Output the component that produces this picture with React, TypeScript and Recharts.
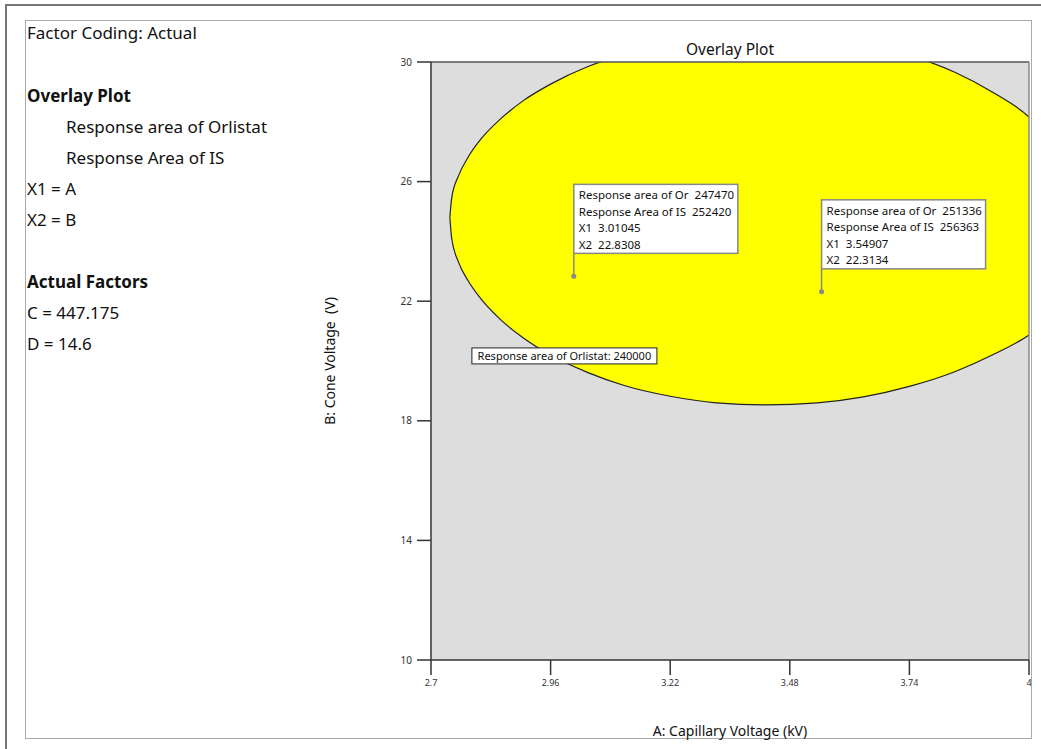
import { Area, CartesianGrid, ComposedChart, ReferenceLine, Scatter, XAxis, YAxis } from 'recharts'

// contour of the Orlistat response (240000)
const contourX = [2.741, 2.745, 2.76, 2.78, 2.81, 2.85, 2.9, 2.96, 3.04, 3.12, 3.22, 3.32, 3.43, 3.54, 3.64, 3.74, 3.84, 3.92, 4.0, 4.05]
const contourLow = [24.8, 24.1, 23.3, 22.7, 22.05, 21.4, 20.78, 20.2, 19.62, 19.18, 18.82, 18.6, 18.53, 18.6, 18.8, 19.15, 19.65, 20.2, 20.87, 21.5]
const contourHigh = [24.8, 25.45, 26.2, 26.8, 27.45, 28.08, 28.7, 29.26, 29.84, 30.25, 30.62, 30.83, 30.9, 30.82, 30.59, 30.22, 29.65, 29.0, 28.16, 27.3]

const xTicks = [2.7, 2.96, 3.22, 3.48, 3.74, 4]
const yTicks = [10, 14, 18, 22, 26, 30]

const flagX = [3.01045, 3.54907]
const flagY = [22.8308, 22.3134]
const flagOr = [247470, 251336]
const flagIS = [252420, 256363]

const contourLabel = 'Response area of Orlistat: 240000'
const contourLabelAt = { x: 2.99, y: 20.17 }

const leftLines = [
  { text: 'Factor Coding: Actual', y: 33, x: 27, bold: false },
  { text: 'Overlay Plot', y: 96, x: 27, bold: true },
  { text: 'Response area of Orlistat', y: 127, x: 66, bold: false },
  { text: 'Response Area of IS', y: 158, x: 66, bold: false },
  { text: 'X1 = A', y: 189, x: 27, bold: false },
  { text: 'X2 = B', y: 220, x: 27, bold: false },
  { text: 'Actual Factors', y: 282, x: 27, bold: true },
  { text: 'C = 447.175', y: 313, x: 27, bold: false },
  { text: 'D = 14.6', y: 344, x: 27, bold: false },
]

const FONT = '"Noto Sans", "Open Sans", sans-serif'

const contourData = contourX.map((x, i) => ({ x, band: [contourLow[i], contourHigh[i]] }))
const flagData = flagX.map((x, i) => ({ x, y: flagY[i], or: flagOr[i], is: flagIS[i] }))

const FlagShape = (props: any) => {
  const { cx, cy, payload } = props
  if (cx == null || cy == null) return null
  const boxW = 164
  const boxH = 69
  const top = cy - 23 - boxH
  const rows = [
    `Response area of Or  ${payload.or}`,
    `Response Area of IS  ${payload.is}`,
    `X1  ${payload.x}`,
    `X2  ${payload.y}`,
  ]
  return (
    <g>
      <line x1={cx} y1={cy} x2={cx} y2={top + boxH} stroke="#888" strokeWidth={1.5} />
      <circle cx={cx} cy={cy} r={2.5} fill="#888" />
      <rect x={cx} y={top} width={boxW} height={boxH} fill="#fff" stroke="#888" strokeWidth={1.5} />
      {rows.map((r, i) => (
        <text
          key={i}
          x={cx + 5}
          y={top + 15 + i * 16.5}
          fontSize={11.5}
          fontFamily={FONT}
          fill="#111"
          style={{ whiteSpace: 'pre' }}
        >
          {r}
        </text>
      ))}
    </g>
  )
}

const LabelShape = (props: any) => {
  const { cx, cy } = props
  if (cx == null || cy == null) return null
  const w = 185
  const h = 16
  return (
    <g>
      <rect x={cx - w / 2} y={cy - h / 2} width={w} height={h} fill="#fff" stroke="#222" strokeWidth={1} />
      <text x={cx} y={cy + 4} textAnchor="middle" fontSize={11} fontFamily={FONT} fill="#111">
        {contourLabel}
      </text>
    </g>
  )
}

export default function App() {
  return (
    <div
      style={{
        position: 'absolute',
        left: 0,
        top: 0,
        width: 1041,
        height: 749,
        overflow: 'hidden',
        background: '#fff',
        fontFamily: FONT,
        color: '#111',
      }}
    >
      <div style={{ position: 'absolute', left: 5, top: 4, width: 1060, height: 770, border: '2px solid #777' }} />
      <div style={{ position: 'absolute', left: 25, top: 20, width: 1005, height: 717, border: '1px solid #aaa' }} />

      {leftLines.map((l) => (
        <div
          key={l.text}
          style={{
            position: 'absolute',
            left: l.x,
            top: l.y - 12,
            fontSize: 17,
            lineHeight: '24px',
            fontWeight: l.bold ? 700 : 400,
            whiteSpace: 'nowrap',
          }}
        >
          {l.text}
        </div>
      ))}

      <div style={{ position: 'absolute', left: 630, top: 38, width: 200, textAlign: 'center', fontSize: 15.5 }}>
        Overlay Plot
      </div>
      <div style={{ position: 'absolute', left: 580, top: 721, width: 300, textAlign: 'center', fontSize: 14 }}>
        A: Capillary Voltage (kV)
      </div>
      <div
        style={{
          position: 'absolute',
          left: 330 - 150,
          top: 361 - 10,
          width: 300,
          height: 20,
          textAlign: 'center',
          fontSize: 14,
          lineHeight: '20px',
          transform: 'rotate(-90deg)',
        }}
      >
        B: Cone Voltage&nbsp;&nbsp;(V)
      </div>

      <div style={{ position: 'absolute', left: 0, top: 0 }}>
        <ComposedChart width={1041} height={749} margin={{ top: 62, right: 12, bottom: 59, left: 381 }}>
          <CartesianGrid horizontal={false} vertical={false} fill="#dddddd" />
          <XAxis
            type="number"
            dataKey="x"
            domain={[2.7, 4]}
            ticks={xTicks}
            allowDataOverflow
            height={30}
            tickSize={15}
            tickMargin={5}
            tick={{ fontSize: 9, fill: '#333', fontFamily: FONT }}
            stroke="#333"
            axisLine={{ stroke: '#333', strokeWidth: 1.5 }}
            tickLine={{ stroke: '#333', strokeWidth: 1.5 }}
          />
          <YAxis
            type="number"
            domain={[10, 30]}
            ticks={yTicks}
            allowDataOverflow
            width={50}
            tickSize={14}
            tickMargin={5}
            tick={{ fontSize: 10, fill: '#333', fontFamily: FONT }}
            axisLine={{ stroke: '#333', strokeWidth: 1.5 }}
            tickLine={{ stroke: '#333', strokeWidth: 1.5 }}
          />
          <Area
            data={contourData}
            dataKey="band"
            type="monotone"
            fill="#ffff00"
            fillOpacity={1}
            stroke="#222"
            strokeWidth={1.2}
            isAnimationActive={false}
            dot={false}
            activeDot={false}
          />
          <ReferenceLine y={30} stroke="#555" strokeWidth={1.5} />
          <ReferenceLine x={4} stroke="#888" strokeWidth={1.5} />
          <Scatter data={[contourLabelAt]} dataKey="y" shape={LabelShape} isAnimationActive={false} />
          <Scatter data={flagData} dataKey="y" shape={FlagShape} isAnimationActive={false} />
        </ComposedChart>
      </div>
    </div>
  )
}
